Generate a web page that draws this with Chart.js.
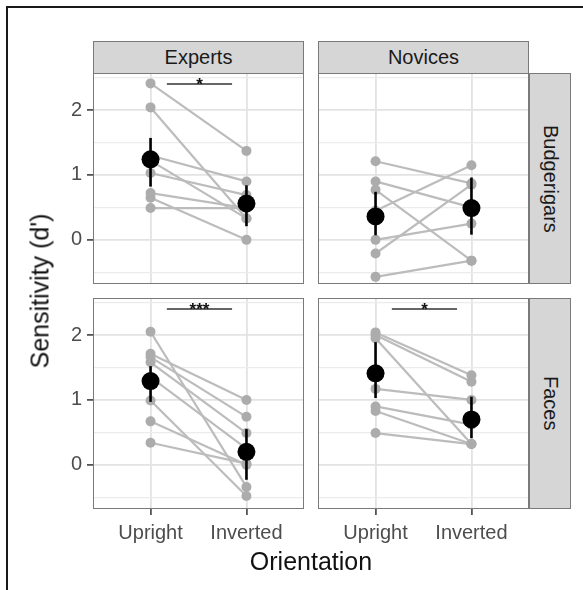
<!DOCTYPE html>
<html>
<head>
<meta charset="utf-8">
<script src="https://cdn.jsdelivr.net/npm/chart.js@4.4.1/dist/chart.umd.min.js"></script>
<style>
  body { margin: 0; background: #fff; width: 583px; height: 590px; overflow: hidden; position: relative; font-family: "Liberation Sans", Arial, sans-serif; }
  .frame { position: absolute; left: 6px; top: 6px; width: 620px; height: 620px; border-top: 2px solid #1a1a1a; border-left: 2px solid #1a1a1a; }
  canvas { position: absolute; }
  .strip { position: absolute; box-sizing: border-box; background: #d6d6d6; border: 1px solid #7a7a7a; color: #1a1a1a; font-size: 20px; display: flex; align-items: center; justify-content: center; }
  .strip.side span { writing-mode: vertical-rl; }
  .title { position: absolute; color: #111; font-size: 25px; white-space: nowrap; }
</style>
</head>
<body>
<div class="frame"></div>

<div class="strip" style="left:93px; top:41px; width:211px; height:33px;">Experts</div>
<div class="strip" style="left:318px; top:41px; width:211px; height:33px;">Novices</div>
<div class="strip side" style="left:529px; top:73px; width:42px; height:211px;"><span>Budgerigars</span></div>
<div class="strip side" style="left:529px; top:298px; width:42px; height:211px;"><span>Faces</span></div>

<canvas id="pExpBud" width="256" height="211" style="left:48px; top:73px;"></canvas>
<canvas id="pNovBud" width="211" height="211" style="left:318px; top:73px;"></canvas>
<canvas id="pExpFace" width="256" height="256" style="left:48px; top:298px;"></canvas>
<canvas id="pNovFace" width="211" height="256" style="left:318px; top:298px;"></canvas>

<div class="title" id="yTitle" style="left:40px; top:291px; transform: translate(-50%, -50%) rotate(-90deg);">Sensitivity (d')</div>
<div class="title" id="xTitle" style="left:311px; top:561px; transform: translate(-50%, -50%);">Orientation</div>

<script>
// 軸とカテゴリ
const categories = ['Upright', 'Inverted'];
const yTicks = [-0.5, 0, 0.5, 1, 1.5, 2, 2.5];
const yMin = -0.68;
const yMax = 2.57;

// Experts / Budgerigars (個人の値)
const expBudUpright = [2.41, 2.04, 1.30, 1.22, 1.03, 0.72, 0.65, 0.49];
const expBudInverted = [1.37, 0.33, 0.90, 0.33, 0.69, 0.49, 0.00, 0.49];
const expBudMean = [1.24, 0.56];
const expBudLow = [0.82, 0.21];
const expBudHigh = [1.57, 0.84];

// Novices / Budgerigars
const novBudUpright = [1.21, 0.90, 0.77, 0.45, 0.00, -0.21, -0.57];
const novBudInverted = [0.87, 0.50, -0.32, 1.15, 0.25, 0.85, -0.32];
const novBudMean = [0.36, 0.49];
const novBudLow = [0.07, 0.08];
const novBudHigh = [0.74, 0.96];

// Experts / Faces
const expFaceUpright = [2.05, 1.71, 1.66, 1.58, 1.35, 0.99, 0.67, 0.34];
const expFaceInverted = [-0.34, 1.00, 0.74, 0.49, 0.25, -0.48, 0.00, 0.02];
const expFaceMean = [1.29, 0.20];
const expFaceLow = [0.97, -0.23];
const expFaceHigh = [1.52, 0.55];

// Novices / Faces
const novFaceUpright = [2.04, 2.00, 1.95, 1.17, 0.90, 0.83, 0.49];
const novFaceInverted = [1.38, 1.28, 0.32, 1.00, 0.62, 0.32, 0.32];
const novFaceMean = [1.41, 0.70];
const novFaceLow = [1.03, 0.41];
const novFaceHigh = [1.89, 1.05];

// 有意差の表示
const sigStars = ['*', '', '***', '*'];
const sigY = 2.4;
const sigFrom = 1.17;
const sigTo = 1.85;

Chart.defaults.font.family = '"Liberation Sans", Arial, sans-serif';

// パネルの枠線と星印
const panelPlugin = {
    id: 'panelDecor',
    afterDatasetsDraw(chart, args, opts) {
        const ctx = chart.ctx;
        const a = chart.chartArea;
        const xs = chart.scales.x;
        const ys = chart.scales.y;
        if (opts.stars) {
            ctx.save();
            ctx.fillStyle = '#111';
            ctx.font = 'bold 17px "Liberation Sans", Arial, sans-serif';
            ctx.textAlign = 'center';
            ctx.textBaseline = 'alphabetic';
            const cx = xs.getPixelForValue((sigFrom + sigTo) / 2);
            ctx.fillText(opts.stars, cx, ys.getPixelForValue(sigY) + 6);
            ctx.restore();
        }
        ctx.save();
        ctx.strokeStyle = '#7a7a7a';
        ctx.lineWidth = 1;
        ctx.strokeRect(a.left + 0.5, a.top + 0.5, a.right - a.left - 1, a.bottom - a.top - 1);
        ctx.restore();
    }
};

// ラベルによる余白を消す
function noPadding(s) {
    s.paddingTop = 0;
    s.paddingBottom = 0;
    s.paddingLeft = 0;
    s.paddingRight = 0;
}

function makePanel(id, upright, inverted, mean, low, high, stars, showX, showY) {
    const datasets = [];

    // 平均値
    datasets.push({
        data: [{ x: 1, y: mean[0] }, { x: 2, y: mean[1] }],
        showLine: false,
        pointRadius: 9,
        pointBackgroundColor: '#000',
        pointBorderWidth: 0,
        order: 0
    });

    // エラーバー
    for (let i = 0; i < 2; i++) {
        datasets.push({
            data: [{ x: i + 1, y: low[i] }, { x: i + 1, y: high[i] }],
            borderColor: '#000',
            borderWidth: 2.6,
            pointRadius: 0,
            order: 1
        });
    }

    // 有意差の線
    if (stars) {
        datasets.push({
            data: [{ x: sigFrom, y: sigY }, { x: sigTo, y: sigY }],
            borderColor: '#333',
            borderWidth: 1.6,
            pointRadius: 0,
            order: 2
        });
    }

    // 個人のデータ
    upright.forEach((v, i) => {
        datasets.push({
            data: [{ x: 1, y: v }, { x: 2, y: inverted[i] }],
            borderColor: '#bcbcbc',
            borderWidth: 2.2,
            pointRadius: 5,
            pointBackgroundColor: '#acacac',
            pointBorderWidth: 0,
            order: 3
        });
    });

    return new Chart(document.getElementById(id), {
        type: 'line',
        data: { datasets },
        plugins: [panelPlugin],
        options: {
            responsive: false,
            animation: false,
            events: [],
            devicePixelRatio: 1,
            layout: { padding: 0, autoPadding: false },
            plugins: {
                legend: { display: false },
                tooltip: { enabled: false },
                panelDecor: { stars }
            },
            scales: {
                x: {
                    type: 'linear',
                    min: 0.4,
                    max: 2.6,
                    afterBuildTicks: (s) => { s.ticks = [{ value: 1 }, { value: 2 }]; },
                    afterFit: (s) => { s.height = showX ? 45 : 0; noPadding(s); },
                    border: { display: false },
                    grid: {
                        color: '#e3e3e3',
                        lineWidth: 1.8,
                        drawTicks: showX,
                        tickLength: 6,
                        tickColor: '#555'
                    },
                    ticks: {
                        display: showX,
                        autoSkip: false,
                        maxRotation: 0,
                        padding: 6,
                        color: '#4d4d4d',
                        font: { size: 20 },
                        callback: (v) => categories[v - 1]
                    }
                },
                y: {
                    min: yMin,
                    max: yMax,
                    afterBuildTicks: (s) => { s.ticks = yTicks.map(v => ({ value: v })); },
                    afterFit: (s) => { s.width = showY ? 45 : 0; noPadding(s); },
                    border: { display: false },
                    grid: {
                        color: (c) => Number.isInteger(c.tick.value) ? '#e3e3e3' : '#ececec',
                        lineWidth: (c) => Number.isInteger(c.tick.value) ? 1.8 : 1.2,
                        drawTicks: showY,
                        tickLength: 6,
                        tickColor: (c) => Number.isInteger(c.tick.value) ? '#555' : 'rgba(0,0,0,0)'
                    },
                    ticks: {
                        display: showY,
                        autoSkip: false,
                        padding: 5,
                        color: '#4d4d4d',
                        font: { size: 20 },
                        callback: (v) => Number.isInteger(v) ? String(v) : ''
                    }
                }
            }
        }
    });
}

makePanel('pExpBud', expBudUpright, expBudInverted, expBudMean, expBudLow, expBudHigh, sigStars[0], false, true);
makePanel('pNovBud', novBudUpright, novBudInverted, novBudMean, novBudLow, novBudHigh, sigStars[1], false, false);
makePanel('pExpFace', expFaceUpright, expFaceInverted, expFaceMean, expFaceLow, expFaceHigh, sigStars[2], true, true);
makePanel('pNovFace', novFaceUpright, novFaceInverted, novFaceMean, novFaceLow, novFaceHigh, sigStars[3], true, false);
</script>
</body>
</html>
